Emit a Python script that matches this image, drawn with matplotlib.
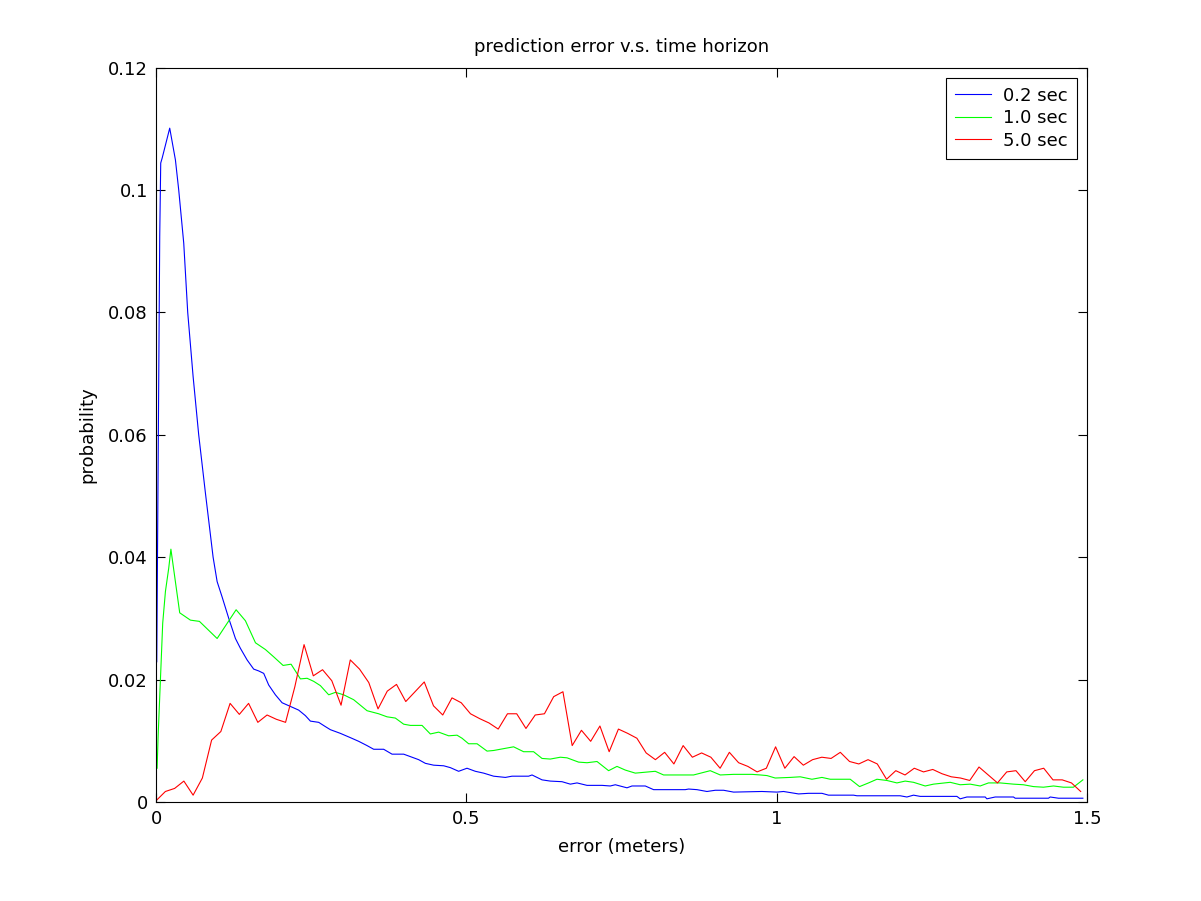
import numpy as np
import matplotlib
matplotlib.use("Agg")
import matplotlib.pyplot as plt

# prediction error histograms for 3 time horizons

# 5.0 sec curve : one value per bin (bin width ~0.0149 m)
bin_width = 0.0149
red_y = [0.0002, 0.0017, 0.0022, 0.0034, 0.0011, 0.0039, 0.0101, 0.0115, 0.0161, 0.0143,
         0.0161, 0.0130, 0.0142, 0.0135, 0.0130, 0.0188, 0.0257, 0.0206, 0.0216, 0.0198,
         0.0158, 0.0232, 0.0217, 0.0195, 0.0152, 0.0181, 0.0192, 0.0164, 0.0180, 0.0196,
         0.0157, 0.0142, 0.0170, 0.0162, 0.0144, 0.0136, 0.0129, 0.0119, 0.0144, 0.0144,
         0.0120, 0.0142, 0.0144, 0.0172, 0.0180, 0.0092, 0.0117, 0.0099, 0.0124, 0.0082,
         0.0119, 0.0112, 0.0104, 0.0080, 0.0069, 0.0081, 0.0062, 0.0092, 0.0073, 0.0080,
         0.0073, 0.0055, 0.0081, 0.0064, 0.0058, 0.0049, 0.0055, 0.0090, 0.0055, 0.0074,
         0.0060, 0.0069, 0.0073, 0.0071, 0.0081, 0.0066, 0.0062, 0.0069, 0.0062, 0.0037,
         0.0051, 0.0044, 0.0055, 0.0049, 0.0053, 0.0046, 0.0041, 0.0039, 0.0035, 0.0057,
         0.0044, 0.0031, 0.0049, 0.0051, 0.0033, 0.0051, 0.0055, 0.0036, 0.0036, 0.0031,
         0.0017]
red_x = np.arange(len(red_y)) * bin_width

# 0.2 sec curve (error, probability)
blue_x = [0.0010, 0.0026, 0.0042, 0.0058, 0.0074, 0.0097, 0.0219, 0.0311, 0.0364, 0.0445,
          0.0509, 0.0596, 0.0686, 0.0794, 0.0918, 0.0983, 0.1063, 0.1170, 0.1278, 0.1358,
          0.1466, 0.1572, 0.1653, 0.1734, 0.1814, 0.1922, 0.2030, 0.2164, 0.2297, 0.2405,
          0.2486, 0.2620, 0.2728, 0.2808, 0.2969, 0.3130, 0.3264, 0.3399, 0.3506, 0.3667,
          0.3802, 0.3989, 0.4097, 0.4231, 0.4339, 0.4472, 0.4634, 0.4741, 0.4875, 0.5010,
          0.5144, 0.5278, 0.5439, 0.5628, 0.5735, 0.6003, 0.6058, 0.6219, 0.6352, 0.6541,
          0.6675, 0.6783, 0.6944, 0.7186, 0.7319, 0.7400, 0.7588, 0.7669, 0.7883, 0.8017,
          0.8527, 0.8581, 0.8716, 0.8877, 0.9011, 0.9145, 0.9306, 0.9763, 1.0005, 1.0111,
          1.0353, 1.0514, 1.0730, 1.0836, 1.1239, 1.1294, 1.1991, 1.2099, 1.2206, 1.2313,
          1.2905, 1.2958, 1.3066, 1.3361, 1.3388, 1.3522, 1.3817, 1.3844, 1.4381, 1.4408,
          1.4542, 1.4935]
blue_y = [0.0229, 0.0461, 0.0692, 0.0925, 0.1044, 0.1052, 0.1101, 0.1049, 0.1000, 0.0913,
          0.0800, 0.0695, 0.0600, 0.0505, 0.0400, 0.0360, 0.0335, 0.0300, 0.0267, 0.0251,
          0.0232, 0.0217, 0.0214, 0.0210, 0.0191, 0.0175, 0.0162, 0.0156, 0.0150, 0.0141,
          0.0132, 0.0130, 0.0123, 0.0118, 0.0112, 0.0105, 0.0099, 0.0092, 0.0086, 0.0086,
          0.0078, 0.0078, 0.0074, 0.0069, 0.0063, 0.0060, 0.0059, 0.0056, 0.0050, 0.0055,
          0.0050, 0.0047, 0.0042, 0.0040, 0.0042, 0.0042, 0.0044, 0.0036, 0.0034, 0.0033,
          0.0029, 0.0031, 0.0027, 0.0027, 0.0026, 0.0028, 0.0023, 0.0026, 0.0026, 0.0020,
          0.0020, 0.0021, 0.0020, 0.0017, 0.0019, 0.0019, 0.0016, 0.0017, 0.0016, 0.0017,
          0.0013, 0.0014, 0.0014, 0.0011, 0.0011, 0.0010, 0.0010, 0.0008, 0.0011, 0.0009,
          0.0009, 0.0005, 0.0008, 0.0008, 0.0005, 0.0008, 0.0008, 0.0006, 0.0006, 0.0008,
          0.0006, 0.0006]

# 1.0 sec curve
green_x = [0.0016, 0.0032, 0.0069, 0.0106, 0.0150, 0.0203, 0.0238, 0.0380, 0.0553, 0.0698,
           0.0983, 0.1289, 0.1439, 0.1601, 0.1761, 0.1895, 0.2046, 0.2175, 0.2325, 0.2433,
           0.2539, 0.2647, 0.2781, 0.2889, 0.3022, 0.3183, 0.3399, 0.3586, 0.3722, 0.3855,
           0.3989, 0.4097, 0.4285, 0.4419, 0.4553, 0.4714, 0.4849, 0.4930, 0.5036, 0.5172,
           0.5333, 0.5439, 0.5600, 0.5761, 0.5922, 0.6083, 0.6219, 0.6352, 0.6514, 0.6622,
           0.6808, 0.6944, 0.7105, 0.7292, 0.7427, 0.7561, 0.7722, 0.7936, 0.8044, 0.8178,
           0.8661, 0.8930, 0.9091, 0.9306, 0.9602, 0.9736, 0.9844, 0.9977, 1.0219, 1.0380,
           1.0569, 1.0730, 1.0864, 1.1186, 1.1336, 1.1481, 1.1616, 1.1777, 1.1938, 1.2072,
           1.2206, 1.2394, 1.2528, 1.2797, 1.2958, 1.3119, 1.3280, 1.3414, 1.3602, 1.3817,
           1.3978, 1.4139, 1.4300, 1.4461, 1.4622, 1.4783, 1.4935]
green_y = [0.0055, 0.0107, 0.0199, 0.0292, 0.0344, 0.0382, 0.0413, 0.0309, 0.0297, 0.0295,
           0.0267, 0.0314, 0.0296, 0.0260, 0.0249, 0.0237, 0.0223, 0.0225, 0.0201, 0.0202,
           0.0197, 0.0190, 0.0175, 0.0179, 0.0175, 0.0167, 0.0149, 0.0144, 0.0139, 0.0137,
           0.0127, 0.0125, 0.0125, 0.0111, 0.0114, 0.0108, 0.0109, 0.0104, 0.0095, 0.0095,
           0.0083, 0.0084, 0.0087, 0.0090, 0.0082, 0.0082, 0.0071, 0.0070, 0.0073, 0.0072,
           0.0065, 0.0064, 0.0066, 0.0051, 0.0058, 0.0052, 0.0047, 0.0049, 0.0050, 0.0044,
           0.0044, 0.0051, 0.0044, 0.0045, 0.0045, 0.0044, 0.0043, 0.0039, 0.0040, 0.0041,
           0.0037, 0.0040, 0.0037, 0.0037, 0.0025, 0.0031, 0.0037, 0.0035, 0.0031, 0.0034,
           0.0032, 0.0026, 0.0029, 0.0032, 0.0028, 0.0029, 0.0026, 0.0031, 0.0031, 0.0029,
           0.0028, 0.0025, 0.0024, 0.0026, 0.0024, 0.0024, 0.0036]

labels = ["0.2 sec", "1.0 sec", "5.0 sec"]
x_ticks = [0, 0.5, 1, 1.5]
x_ticklabels = ["0", "0.5", "1", "1.5"]
y_ticks = [0, 0.02, 0.04, 0.06, 0.08, 0.1, 0.12]
y_ticklabels = ["0", "0.02", "0.04", "0.06", "0.08", "0.1", "0.12"]

plt.rcParams['font.family'] = ['DejaVu Sans']
fs = 13

fig = plt.figure(figsize=(12.01, 9.01), dpi=100)
ax = fig.add_axes([0.13, 0.11, 0.775, 0.815])

ax.plot(blue_x, blue_y, color=(0, 0, 1), lw=0.8, label=labels[0])
ax.plot(green_x, green_y, color=(0, 1, 0), lw=0.8, label=labels[1])
ax.plot(red_x, red_y, color=(1, 0, 0), lw=0.8, label=labels[2])

ax.set_xlim(0, 1.5)
ax.set_ylim(0, 0.12)
ax.set_xticks(x_ticks)
ax.set_xticklabels(x_ticklabels)
ax.set_yticks(y_ticks)
ax.set_yticklabels(y_ticklabels)
ax.tick_params(direction='in', length=6.5, width=0.8, top=True, right=True,
               labelsize=fs, pad=6)
for s in ax.spines.values():
    s.set_linewidth(0.8)

ax.set_title("prediction error v.s. time horizon", fontsize=fs, pad=11)
ax.set_xlabel("error (meters)", fontsize=fs, labelpad=7)
ax.set_ylabel("probability", fontsize=fs, labelpad=8)

leg = ax.legend(loc='upper right', fancybox=False, edgecolor='black', framealpha=1,
                handlelength=2.0, handletextpad=0.7, labelspacing=0.25,
                borderpad=0.5, borderaxespad=0.55, fontsize=fs)
leg.get_frame().set_linewidth(0.8)

plt.savefig("out.png", dpi=100)
